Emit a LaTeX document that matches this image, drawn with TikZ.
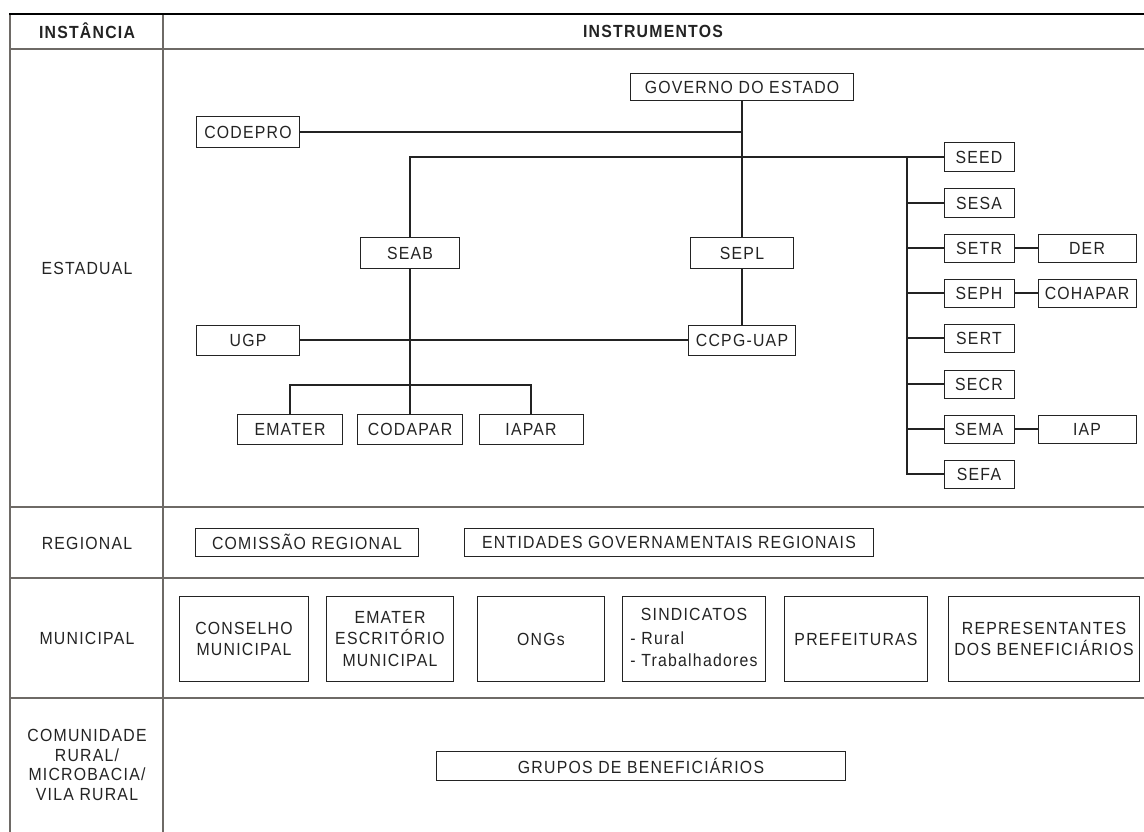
\documentclass[tikz,border=0pt]{standalone}
\usepackage{fontspec}
\setmainfont[LetterSpace=7, FakeStretch=0.9]{Liberation Sans}
\usetikzlibrary{positioning,calc}
\definecolor{gridgray}{RGB}{110,106,102}
\definecolor{inkgray}{RGB}{35,35,35}
\tikzset{
    box/.style = {draw=inkgray, rectangle, line width=0.7pt, inner sep=2pt,
        minimum height=0.75cm, minimum width=2.575cm},
    secbox/.style = {box, minimum height=0.7cm, minimum width=1.75cm},
    subbox/.style = {box, minimum height=0.7cm, minimum width=2.45cm},
    bigbox/.style = {box, minimum height=2.125cm, align=center,
        font=\fontsize{12.5}{15.5}\selectfont},
    rowlabel/.style = {align=center, font=\fontsize{12.5}{13.8}\selectfont},
    header/.style = {font=\fontsize{12.5}{14}\selectfont\bfseries},
    gridline/.style = {draw=gridgray, line width=1.4pt},
    link/.style = {draw=inkgray, line width=0.8pt},
}

\begin{document}
\begin{tikzpicture}[x=0.025cm, y=-0.025cm,
    every node/.style={font=\fontsize{12.5}{14}\selectfont, text=inkgray}]
	\useasboundingbox (0,0) rectangle (1144,832);

	% table
	\draw [gridline] (10,832) -- (10,14);
	\draw [gridline] (163,14) -- (163,832);
	\foreach \yy in {49,507,578,698}
		\draw [gridline] (10,\yy) -- (1144,\yy);
	\draw [draw=black, line width=1.2pt] (9,14) -- (1144,14);

	% headers
	\node [header, name=hdInstancia] at (87,31) {INSTÂNCIA};
	\node [header, name=hdInstrumentos] at (653,31) {INSTRUMENTOS};

	% row labels
	\node [rowlabel, name=lbEstadual] at (87,268) {ESTADUAL};
	\node [rowlabel, name=lbRegional] at (87,543) {REGIONAL};
	\node [rowlabel, name=lbMunicipal] at (87,638) {MUNICIPAL};
	\node [rowlabel, name=lbComunidade] at (87,765)
		{COMUNIDADE\\RURAL/\\MICROBACIA/\\VILA RURAL};

	% estadual
	\node [box, minimum width=5.55cm, minimum height=0.675cm, name=govEstado] at (742,87) {GOVERNO DO ESTADO};
	\node [box, name=codepro] at (248,132) {CODEPRO};
	\node [box, minimum width=2.45cm, name=seab] at (410,253) {SEAB};
	\node [box, name=sepl] at (742,253) {SEPL};
	\node [box, name=ugp] at (248,340) {UGP};
	\node [box, minimum width=2.675cm, name=ccpg] at (742,340) {CCPG-UAP};
	\node [box, minimum width=2.6cm, name=emater] at (290,429) {EMATER};
	\node [box, minimum width=2.6cm, name=codapar] at (410,429) {CODAPAR};
	\node [box, minimum width=2.6cm, name=iapar] at (531,429) {IAPAR};
	\coordinate (branch) at (410,385);
	\coordinate (spine) at (907,157);

	% secretarias
	\foreach \nm/\txt/\yy in {seed/SEED/157, sesa/SESA/203, setr/SETR/248,
		seph/SEPH/293, sert/SERT/338, secr/SECR/384, sema/SEMA/429, sefa/SEFA/474}{
		\node [secbox, name=\nm] at (979,\yy) {\txt};
		\draw [link] (spine |- \nm) -- (\nm);
	}
	\node [subbox, name=der] at (1087,248) {DER};
	\node [subbox, name=cohapar] at (1087,293) {COHAPAR};
	\node [subbox, name=iap] at (1087,429) {IAP};

	%% lines
	\draw [link] (govEstado) -- (sepl);
	\draw [link] (codepro) -- (codepro -| govEstado);
	\draw [link] (seab) |- (seed);
	\draw [link] (spine) |- (sefa);
	\draw [link] (sepl) -- (ccpg);
	\draw [link] (ugp) -- (ccpg);
	\draw [link] (seab) -- (codapar);
	\draw [link] (emater) |- (branch) -| (iapar);
	\draw [link] (setr) -- (der);
	\draw [link] (seph) -- (cohapar);
	\draw [link] (sema) -- (iap);

	% regional
	\node [box, minimum width=5.55cm, minimum height=0.7cm, name=comissao] at (307,542) {COMISSÃO REGIONAL};
	\node [box, minimum width=10.2cm, minimum height=0.7cm, name=entidades] at (669,542) {ENTIDADES GOVERNAMENTAIS REGIONAIS};

	% municipal
	\node [bigbox, minimum width=3.2cm, name=conselho] at (244,639) {CONSELHO\\MUNICIPAL};
	\node [bigbox, minimum width=3.175cm, name=ematerEsc] at (390,639) {EMATER\\ESCRITÓRIO\\MUNICIPAL};
	\node [bigbox, minimum width=3.175cm, name=ongs] at (541,639) {ONGs};
	\node [bigbox, minimum width=3.55cm, name=sindicatos] at (694,639)
		{\begin{tabular}{@{}l@{}}\multicolumn{1}{@{}c@{}}{SINDICATOS}\\[2pt]- Rural\\- Trabalhadores\end{tabular}};
	\node [bigbox, minimum width=3.575cm, name=prefeituras] at (856,639) {PREFEITURAS};
	\node [bigbox, minimum width=4.75cm, name=representantes] at (1044,639) {REPRESENTANTES\\DOS BENEFICIÁRIOS};

	% comunidade
	\node [box, minimum width=10.2cm, minimum height=0.725cm, name=grupos] at (641,766) {GRUPOS DE BENEFICIÁRIOS};
\end{tikzpicture}
\end{document}
